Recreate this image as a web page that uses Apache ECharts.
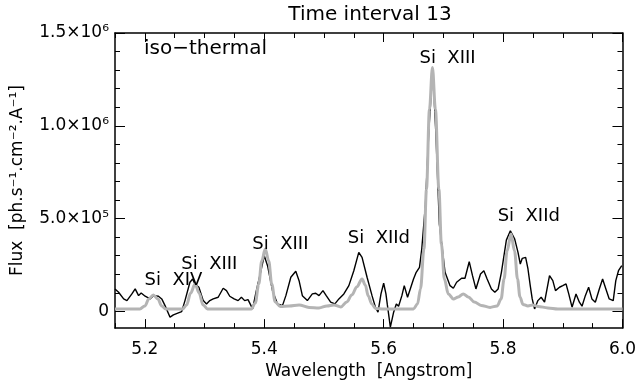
<!DOCTYPE html>
<html>
<head>
<meta charset="utf-8">
<script src="https://cdn.jsdelivr.net/npm/echarts@6/dist/echarts.min.js"></script>
<style>html,body{margin:0;padding:0;background:#fff}#c{width:639px;height:385px}</style>
</head>
<body>
<div id="c"></div>
<script>
// Observed spectrum (black)
const obsWave = [5.150,5.156,5.1645,5.170,5.1783,5.1838,5.1895,5.1938,5.2005,5.2088,5.2145,5.2228,5.2283,5.2338,5.2422,5.2478,5.2562,5.2617,5.2672,5.2755,5.280,5.2838,5.2905,5.2978,5.3033,5.3088,5.3145,5.3228,5.3312,5.3367,5.3422,5.3495,5.3562,5.3617,5.3672,5.3728,5.3805,5.3862,5.3945,5.400,5.4055,5.4138,5.4222,5.4305,5.4362,5.4445,5.4528,5.4583,5.4638,5.4722,5.4805,5.4862,5.4917,5.4983,5.5038,5.5112,5.5183,5.525,5.5333,5.5417,5.55,5.5583,5.5638,5.5722,5.5805,5.5862,5.5905,5.5955,5.600,5.6038,5.6062,5.6112,5.6167,5.6212,5.625,5.6305,5.6345,5.640,5.6455,5.650,5.6545,5.660,5.6638,5.670,5.6758,5.6822,5.6875,5.6933,5.7028,5.7112,5.7167,5.7222,5.7305,5.7362,5.7433,5.7488,5.7545,5.7622,5.7678,5.7733,5.7805,5.7862,5.7917,5.7972,5.8055,5.8122,5.8195,5.825,5.8288,5.8322,5.8378,5.8417,5.8455,5.8488,5.8528,5.8583,5.8638,5.8695,5.8778,5.8833,5.8878,5.8945,5.900,5.9055,5.910,5.9155,5.9222,5.9278,5.9322,5.9378,5.9433,5.9488,5.9545,5.9612,5.9667,5.9722,5.9778,5.9845,5.9888,5.9933,5.9988];
const obsFlux = [121000,103200,67200,58100,94100,121000,84900,99500,81700,67200,84900,81700,67200,31200,-31200,-18800,-8100,-1100,58100,157000,174700,147800,130100,58100,40300,58100,67200,76300,124700,111800,81700,67200,58100,76300,58100,63400,13400,103200,219300,300000,246200,111800,40300,31200,84900,183900,216100,165600,84900,58100,94100,97800,84900,111800,84900,49500,40300,67200,94100,138700,219300,318300,291400,183900,84900,22600,-4300,94100,151600,94100,34900,-84900,-4300,40300,28000,84900,138700,76300,130100,174700,210700,237600,336000,577900,981100,1303700,954200,470400,210700,138700,124700,157000,178500,178500,267700,192500,121000,201600,219300,174700,121000,103200,121000,210700,384000,434400,389800,318300,255400,286000,291400,228500,138700,67200,13400,58100,76300,49500,192500,165600,111800,130100,138700,147800,94100,22600,94100,49500,28000,84900,130100,67200,49500,121000,174700,121000,67200,58100,165600,219300,246200];
// Iso-thermal model (grey)
const modelWave = [5.150,5.1917,5.200,5.2067,5.2142,5.2217,5.2283,5.235,5.2633,5.270,5.2767,5.2842,5.2908,5.2975,5.305,5.3783,5.385,5.3908,5.3958,5.4017,5.4075,5.4125,5.4183,5.4267,5.4417,5.4583,5.475,5.4917,5.505,5.5167,5.5283,5.5383,5.5467,5.555,5.5638,5.5692,5.5742,5.580,5.5867,5.600,5.650,5.6567,5.6617,5.6675,5.6717,5.6767,5.6817,5.6867,5.6925,5.6967,5.7017,5.7083,5.7167,5.725,5.7333,5.7417,5.7517,5.7633,5.7783,5.790,5.7967,5.8017,5.8067,5.8133,5.8192,5.8242,5.8283,5.8333,5.8417,5.850,5.8583,5.875,5.8917,6.000];
const modelFlux = [13400,13400,29600,67200,88700,67200,29600,13400,13400,34900,99500,147800,99500,34900,13400,13400,45700,147800,271500,336000,271500,147800,51100,26900,29600,34900,21500,18800,29600,34900,24200,51100,88700,131700,174700,142500,83300,40300,16100,13400,13400,40300,121000,336000,658600,1088600,1314400,1088600,658600,362900,174700,94100,67200,78000,94100,78000,51100,32300,21500,29600,67200,174700,325200,416600,325200,174700,78000,37600,29600,34900,26900,18800,13400,13400];
// Line identifications
const lineNames = ['Si  XIV','Si  XIII','Si  XIII','Si  XIId','Si  XIII','Si  XIId'];
const lineWave  = [5.248,5.308,5.427,5.592,5.707,5.843];
const lineFlux  = [118000,205000,313000,345000,1313000,463000];
// Axes
const xMin = 5.15, xMax = 6.0;
const xMajor = [5.2,5.4,5.6,5.8,6.0];
const xMinor = [5.15,5.25,5.3,5.35,5.45,5.5,5.55,5.65,5.7,5.75,5.85,5.9,5.95];
const yMin = -90000, yMax = 1500000;
const yMajor = [0,500000,1000000,1500000];
const yMajorLabels = ['0','5.0×10⁵','1.0×10⁶','1.5×10⁶'];
const yMinor = [100000,200000,300000,400000,600000,700000,800000,900000,1100000,1200000,1300000,1400000];

const FONT = 'DejaVu Sans';
const chart = echarts.init(document.getElementById('c'), null, {renderer:'canvas'});
const lineStyleAxis = {color:'#000', width:1.5};
function xAx(pos, vals, len, labels, line) {
  return {type:'value', min:xMin, max:xMax, position:pos,
    axisLine:{show:line, onZero:false, lineStyle:lineStyleAxis},
    axisTick:{show:true, inside:true, length:len, customValues:vals, lineStyle:{color:'#000', width:1}},
    axisLabel:{show:labels, customValues:xMajor, margin:13, color:'#000', fontFamily:FONT, fontSize:17,
      formatter:v=>v.toFixed(1)},
    splitLine:{show:false}};
}
function yAx(pos, vals, len, labels, line) {
  return {type:'value', min:yMin, max:yMax, position:pos,
    axisLine:{show:line, onZero:false, lineStyle:lineStyleAxis},
    axisTick:{show:true, inside:true, length:len, customValues:vals, lineStyle:{color:'#000', width:1}},
    axisLabel:{show:labels, customValues:yMajor, margin:6, color:'#000', fontFamily:FONT, fontSize:17,
      formatter:v=>{const i=yMajor.indexOf(v); return i>=0?yMajorLabels[i]:'';}},
    splitLine:{show:false}};
}
const xA0 = xAx('bottom', xMajor, 9, true, true);
xA0.name = 'Wavelength  [Angstrom]';
xA0.nameLocation = 'middle';
xA0.nameGap = 34;
xA0.nameTextStyle = {color:'#000', fontFamily:FONT, fontSize:17, verticalAlign:'top'};
const yA0 = yAx('left', yMajor, 10, true, true);
yA0.name = 'Flux  [ph.s⁻¹.cm⁻².A⁻¹]';
yA0.nameLocation = 'middle';
yA0.nameGap = 89;
yA0.nameTextStyle = {color:'#000', fontFamily:FONT, fontSize:17};

chart.setOption({
  animation:false,
  backgroundColor:'#fff',
  grid:{left:115, right:14, top:33, bottom:56, containLabel:false},
  xAxis:[xA0, xAx('bottom', xMinor, 5, false, false), xAx('top', xMajor, 9, false, true), xAx('top', xMinor, 5, false, false)],
  yAxis:[yA0, yAx('left', yMinor, 5, false, false), yAx('right', yMajor, 10, false, true), yAx('right', yMinor, 5, false, false)],
  graphic:[
    {type:'text', x:370, y:15, style:{text:'Time interval 13', fill:'#000', font:'20px "DejaVu Sans"', textAlign:'center', textVerticalAlign:'middle'}},
    {type:'text', x:144, y:49, style:{text:'iso−thermal', fill:'#000', font:'20px "DejaVu Sans"', textAlign:'left', textVerticalAlign:'middle'}}
  ],
  series:[
    {type:'line', xAxisIndex:0, yAxisIndex:0, data:obsWave.map((w,i)=>[w,obsFlux[i]]), showSymbol:false, symbol:'none',
      lineStyle:{color:'#000', width:1.4}, z:2},
    {type:'line', xAxisIndex:0, yAxisIndex:0, data:modelWave.map((w,i)=>[w,modelFlux[i]]), showSymbol:false, symbol:'none',
      smooth:0.35, smoothMonotone:'x', lineStyle:{color:'#b4b4b4', width:3}, z:3},
    {type:'scatter', xAxisIndex:0, yAxisIndex:0, symbolSize:0, itemStyle:{color:'#000'}, z:4, silent:true,
      data:lineWave.map((w,i)=>[w,lineFlux[i],lineNames[i]]),
      label:{show:true, position:'top', distance:0, formatter:p=>p.data[2], color:'#000', opacity:1,
        textBorderWidth:0, fontFamily:FONT, fontSize:18}}
  ]
});
</script>
</body>
</html>
